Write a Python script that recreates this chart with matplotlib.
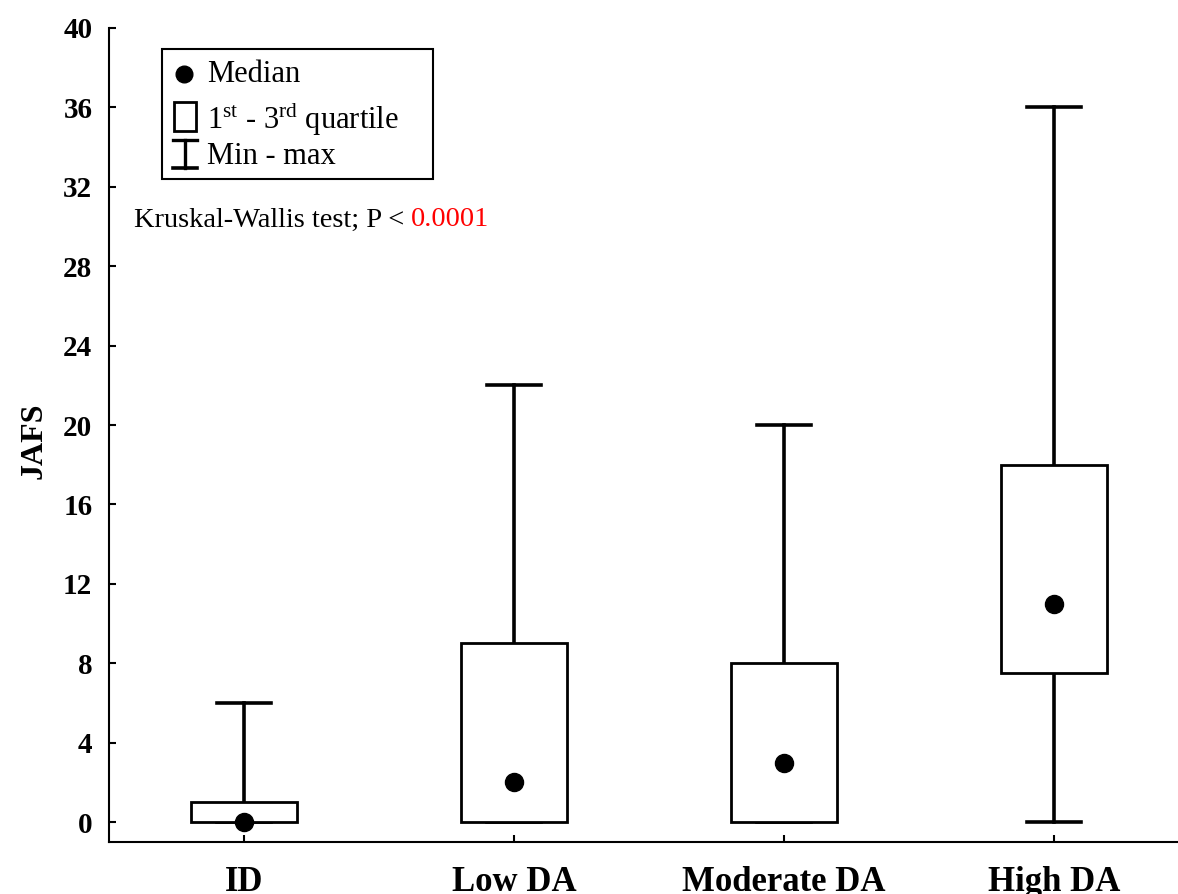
import matplotlib
matplotlib.use("Agg")
import matplotlib.pyplot as plt
from matplotlib.patches import Rectangle
from matplotlib.lines import Line2D

plt.rcParams['font.family'] = ['Liberation Serif', 'DejaVu Serif']
plt.rcParams['mathtext.fontset'] = 'custom'
plt.rcParams['mathtext.rm'] = 'Liberation Serif'

# JAFS summary per disease activity group
groups = ['ID', 'Low DA', 'Moderate DA', 'High DA']
mins = [0, 0, 0, 0]
q1s = [0, 0, 0, 7.5]
medians = [0, 2, 3, 11]
q3s = [1, 9, 8, 18]
maxs = [6, 22, 20, 36]
yticks = [0, 4, 8, 12, 16, 20, 24, 28, 32, 36, 40]

stats = []
for g, lo, a, m, b, hi in zip(groups, mins, q1s, medians, q3s, maxs):
    stats.append({'label': g, 'whislo': lo, 'q1': a, 'med': m, 'q3': b, 'whishi': hi, 'fliers': []})

W, H = 1178, 894
fig = plt.figure(figsize=(W / 100, H / 100), dpi=100)
# axes runs a little past the right edge so the last group sits where it should
ax = fig.add_axes([109 / W, (H - 842) / H, 1080 / W, 814 / H])

pos = list(range(len(groups)))
ax.bxp(stats, positions=pos, widths=0.395, capwidths=0.2, patch_artist=True,
       boxprops=dict(facecolor='white', edgecolor='black', linewidth=2.0, zorder=3),
       whiskerprops=dict(color='black', linewidth=2.6, zorder=2),
       capprops=dict(color='black', linewidth=2.6, zorder=2),
       medianprops=dict(linestyle='none'))
ax.plot(pos, medians, 'o', color='black', markersize=13, zorder=4, linestyle='none')

ax.set_xlim(-0.5, 3.5)
ax.set_ylim(-1, 40)
ax.set_yticks(yticks)
ax.set_xticks(pos)
ax.set_xticklabels(groups, fontsize=25, fontweight='bold')
ax.tick_params(axis='y', labelsize=21, width=1.5, length=5, pad=12, direction='in')
ax.tick_params(axis='x', width=1.5, length=5, pad=17, direction='in')
for lbl in ax.get_yticklabels():
    lbl.set_fontweight('bold')
ax.set_ylabel('JAFS', fontsize=23, fontweight='bold')
ax.yaxis.set_label_coords(-0.056, 0.4926)

ax.spines['top'].set_visible(False)
ax.spines['right'].set_visible(False)
ax.spines['left'].set_linewidth(1.5)
ax.spines['bottom'].set_linewidth(1.5)


def fx(px):
    return (px - 109) / 1080


def fy(py):
    return (842 - py) / 814


# legend box drawn by hand
T = ax.transAxes
ax.add_patch(Rectangle((fx(162), fy(179)), fx(433) - fx(162), fy(49) - fy(179),
                       transform=T, fill=False, edgecolor='black', linewidth=1.5, zorder=5))
ax.add_line(Line2D([fx(184)], [fy(74)], marker='o', markersize=12, color='black',
                   transform=T, zorder=6))
ax.add_patch(Rectangle((fx(174), fy(131)), fx(196) - fx(174), fy(102) - fy(131),
                       transform=T, fill=False, edgecolor='black', linewidth=2.0, zorder=6))
ax.add_line(Line2D([fx(185), fx(185)], [fy(140), fy(168)], color='black', linewidth=2.4, transform=T, zorder=6))
ax.add_line(Line2D([fx(173), fx(197)], [fy(140), fy(140)], color='black', linewidth=2.4, transform=T, zorder=6))
ax.add_line(Line2D([fx(173), fx(197)], [fy(168), fy(168)], color='black', linewidth=2.6, transform=T, zorder=6))

leg_kw = dict(transform=T, fontsize=22, va='center', ha='left', zorder=6)
ax.text(fx(207), fy(75), 'Median', **leg_kw)
ax.text(fx(207), fy(118), r'1$^{\mathregular{st}}$ - 3$^{\mathregular{rd}}$ quartile', **leg_kw)
ax.text(fx(207), fy(157), 'Min - max', **leg_kw)

t1 = ax.text(fx(134), fy(220), 'Kruskal-Wallis test; P < ', transform=T,
             fontsize=20.5, va='center', ha='left')
ax.annotate('0.0001', xy=(1, 0), xycoords=t1, va='bottom', ha='left',
            fontsize=20.5, color='red')

fig.savefig('out.png', dpi=100)
